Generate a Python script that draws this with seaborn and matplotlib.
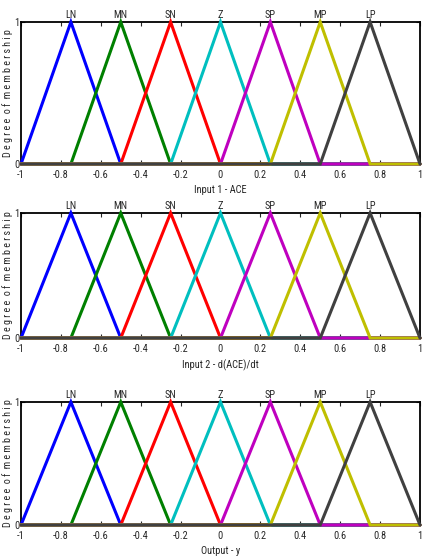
import numpy as np
import pandas as pd
import matplotlib
matplotlib.use("Agg")
import matplotlib.pyplot as plt
import seaborn as sns

# membership functions (triangles) - same for all three variables
mf_names = ["LN", "MN", "SN", "Z", "SP", "MP", "LP"]
left_feet = [-1.0, -0.75, -0.5, -0.25, 0.0, 0.25, 0.5]
peaks = [-0.75, -0.5, -0.25, 0.0, 0.25, 0.5, 0.75]
right_feet = [-0.5, -0.25, 0.0, 0.25, 0.5, 0.75, 1.0]
x_range = [-1.0, 1.0]
var_labels = ["Input 1 - ACE", "Input 2 - d(ACE)/dt", "Output - y"]
x_ticks = [-1, -0.8, -0.6, -0.4, -0.2, 0, 0.2, 0.4, 0.6, 0.8, 1]
mf_colors = [(0, 0, 1), (0, 0.5, 0), (1, 0, 0), (0, 0.75, 0.75),
             (0.75, 0, 0.75), (0.75, 0.75, 0), (0.25, 0.25, 0.25)]

sns.set_style("ticks")
plt.rcParams['font.family'] = ['Roboto Condensed', 'Liberation Sans', 'DejaVu Sans']
plt.rcParams['xtick.direction'] = 'in'
plt.rcParams['ytick.direction'] = 'in'

# long-form table of line vertices, each MF drawn over the whole range
rows = []
for name, a, b, c in zip(mf_names, left_feet, peaks, right_feet):
    for x, y in zip([x_range[0], a, b, c, x_range[1]], [0, 0, 1, 0, 0]):
        rows.append({"mf": name, "x": x, "y": y})
df = pd.DataFrame(rows)

fig = plt.figure(figsize=(4.26, 5.58), dpi=100)
W, H = 426, 558
boxes = [(22, 164), (213, 338), (402, 525)]  # top, bottom in pixels

for (top, bottom), label in zip(boxes, var_labels):
    ax = fig.add_axes([21 / W, 1 - bottom / H, 399 / W, (bottom - top) / H])
    for s in ax.spines.values():
        s.set_visible(True)
        s.set_linewidth(1.3)
        s.set_color("black")
        s.set_zorder(1)
    sns.lineplot(data=df, x="x", y="y", hue="mf", hue_order=mf_names,
                 palette=mf_colors, sort=False, estimator=None,
                 linewidth=2.2, legend=False, ax=ax)
    for ln in ax.lines:
        ln.set_clip_on(False)
        ln.set_zorder(3)
        ln.set_solid_joinstyle("miter")
    ax.set_xlim(x_range)
    ax.set_ylim(0, 1)
    ax.set_xticks(x_ticks)
    ax.set_xticklabels(["%g" % t for t in x_ticks], fontsize=7.5)
    ax.set_yticks([0, 1])
    ax.set_yticklabels(["0", "1"], fontsize=7.5)
    ax.tick_params(top=True, right=True, length=3, width=0.8)
    ax.tick_params(axis="y", pad=1)
    ax.tick_params(axis="x", pad=4)
    ax.set_xlabel(label, fontsize=7.5, labelpad=4)
    ax.set_ylabel("D e g r e e  o f  m e m b e r s h i p", fontsize=7.2,
                  labelpad=1)
    for name, p in zip(mf_names, peaks):
        ax.text(p, 1.015, name, transform=ax.get_xaxis_transform(),
                ha="center", va="bottom", fontsize=7.5)

fig.savefig("out.png", dpi=100)
